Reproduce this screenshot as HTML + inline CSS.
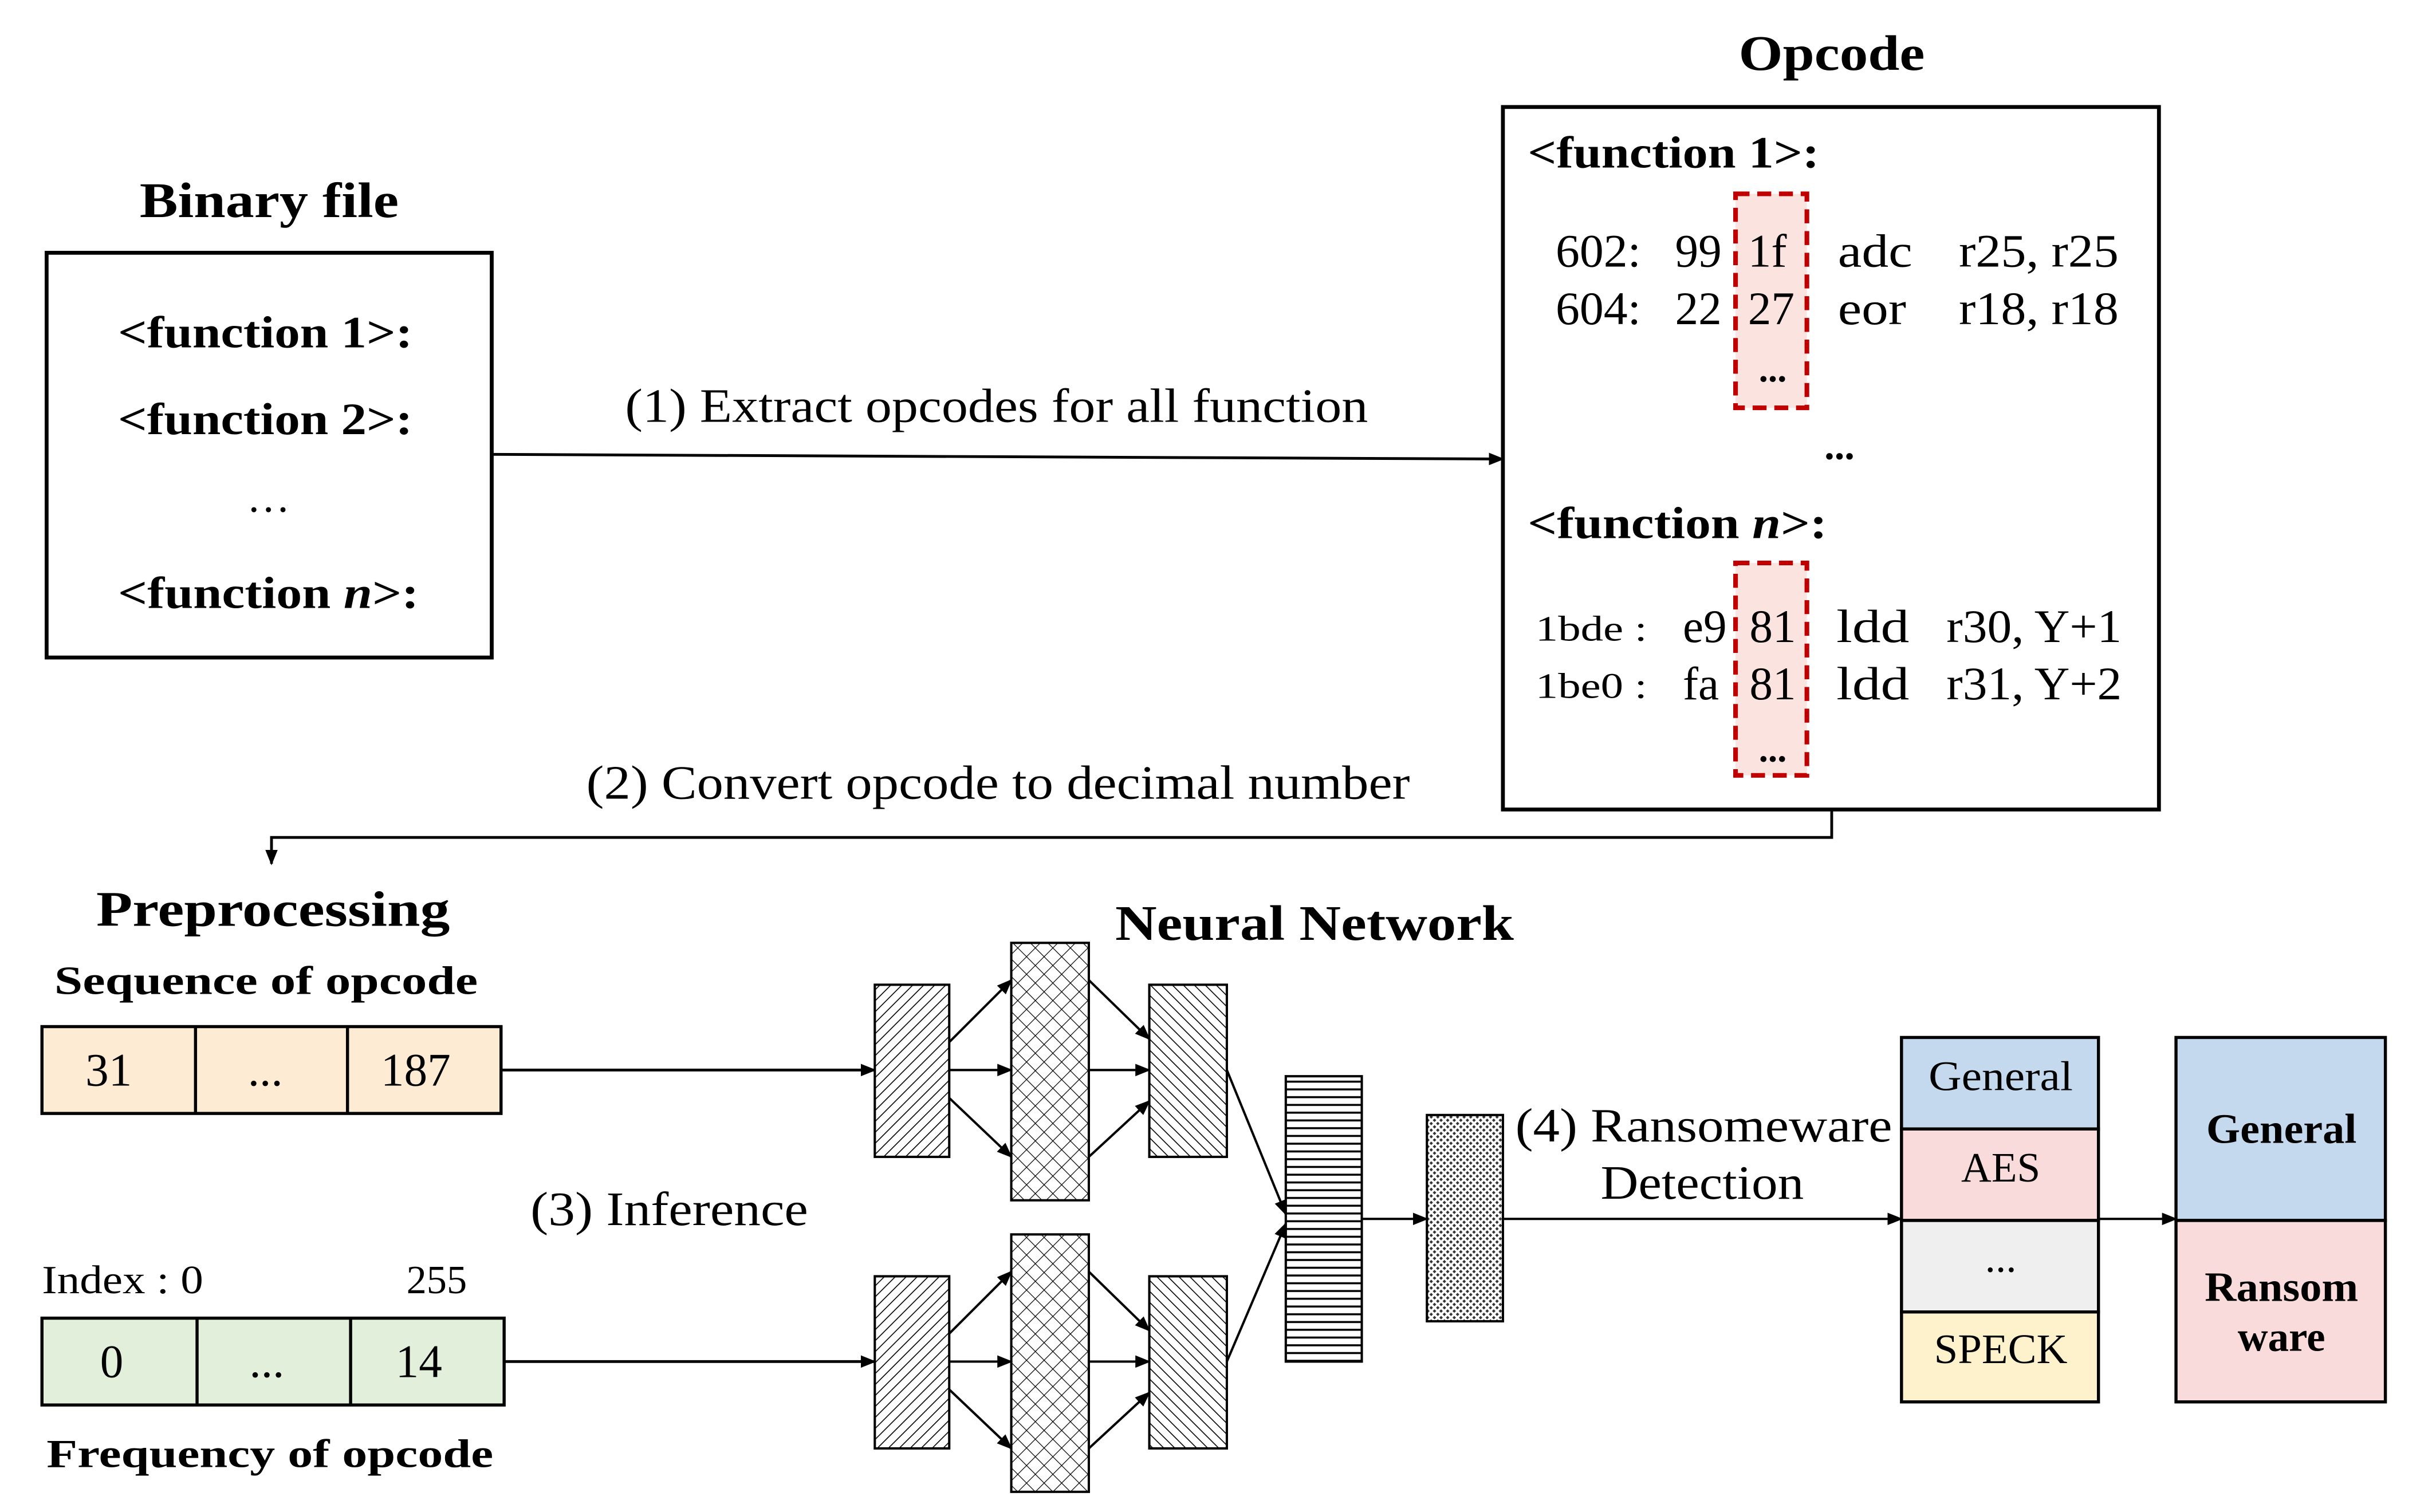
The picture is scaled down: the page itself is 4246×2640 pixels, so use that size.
<!DOCTYPE html>
<html><head><meta charset="utf-8"><style>
html,body{margin:0;padding:0;background:#fff;}
svg{display:block;}
text{font-family:"Liberation Serif",serif;fill:#000;}
.b{font-weight:bold;}
</style></head><body>
<svg width="4246" height="2640" viewBox="0 0 1568 975" xmlns="http://www.w3.org/2000/svg">
<defs>
<marker id="ar" markerWidth="10" markerHeight="8" refX="9" refY="4" orient="auto" markerUnits="userSpaceOnUse">
<path d="M0,0 L10,4 L0,8 z" fill="#000"/></marker>
<pattern id="h1" width="5" height="5" patternUnits="userSpaceOnUse" patternTransform="rotate(45)">
<rect width="5" height="5" fill="#fff"/><line x1="0" y1="0" x2="0" y2="5" stroke="#000" stroke-width="1.2"/></pattern>
<pattern id="h2" width="5" height="5" patternUnits="userSpaceOnUse" patternTransform="rotate(-45)">
<rect width="5" height="5" fill="#fff"/><line x1="0" y1="0" x2="0" y2="5" stroke="#000" stroke-width="1.2"/></pattern>
<pattern id="cx" width="8" height="8" patternUnits="userSpaceOnUse" patternTransform="rotate(45)">
<rect width="8" height="8" fill="#fff"/><line x1="0" y1="0" x2="0" y2="8" stroke="#000" stroke-width="0.9"/><line x1="0" y1="0" x2="8" y2="0" stroke="#000" stroke-width="0.9"/></pattern>
<pattern id="hz" width="5" height="5" patternUnits="userSpaceOnUse">
<rect width="5" height="5" fill="#fff"/><line x1="0" y1="2.5" x2="5" y2="2.5" stroke="#000" stroke-width="1.3"/></pattern>
<pattern id="dt" width="3" height="3" patternUnits="userSpaceOnUse" patternTransform="rotate(45)">
<rect width="3" height="3" fill="#fff"/><rect width="1.6" height="1.6" fill="#333"/></pattern>
</defs>

<!-- Binary file -->
<text x="90" y="140" class="b" font-size="32" textLength="167" lengthAdjust="spacingAndGlyphs">Binary file</text>
<rect x="30" y="163" width="287" height="261" fill="#fff" stroke="#000" stroke-width="2.5"/>
<text x="76" y="224" class="b" font-size="29" textLength="190" lengthAdjust="spacingAndGlyphs">&lt;function 1&gt;:</text>
<text x="76" y="280" class="b" font-size="29" textLength="190" lengthAdjust="spacingAndGlyphs">&lt;function 2&gt;:</text>
<text x="173" y="330" font-size="28" text-anchor="middle">…</text>
<text x="76" y="392" class="b" font-size="29" textLength="194" lengthAdjust="spacingAndGlyphs">&lt;function <tspan font-style="italic">n</tspan>&gt;:</text>

<!-- Arrow 1 -->
<line x1="317" y1="293" x2="969" y2="296" stroke="#000" stroke-width="1.8" marker-end="url(#ar)"/>
<text x="403" y="272" font-size="31" textLength="479" lengthAdjust="spacingAndGlyphs">(1) Extract opcodes for all function</text>

<!-- Opcode -->
<text x="1121" y="45" class="b" font-size="32" textLength="120" lengthAdjust="spacingAndGlyphs">Opcode</text>
<rect x="969" y="69" width="423" height="453" fill="#fff" stroke="#000" stroke-width="2.5"/>
<rect x="1119" y="125" width="46" height="138" fill="#fbe4df" stroke="#c00000" stroke-width="3" stroke-dasharray="9,5"/>
<rect x="1119" y="363" width="46" height="137" fill="#fbe4df" stroke="#c00000" stroke-width="3" stroke-dasharray="9,5"/>
<text x="985" y="108" class="b" font-size="29" textLength="188" lengthAdjust="spacingAndGlyphs">&lt;function 1&gt;:</text>
<g font-size="30">
<text x="1003" y="172" textLength="55" lengthAdjust="spacingAndGlyphs">602:</text><text x="1080" y="172">99</text><text x="1127" y="172">1f</text><text x="1185" y="172" textLength="48" lengthAdjust="spacingAndGlyphs">adc</text><text x="1263" y="172" textLength="103" lengthAdjust="spacingAndGlyphs">r25, r25</text>
<text x="1003" y="209" textLength="55" lengthAdjust="spacingAndGlyphs">604:</text><text x="1080" y="209">22</text><text x="1127" y="209">27</text><text x="1185" y="209" textLength="44" lengthAdjust="spacingAndGlyphs">eor</text><text x="1263" y="209" textLength="103" lengthAdjust="spacingAndGlyphs">r18, r18</text>
</g>
<text x="1143" y="246" class="b" font-size="24" text-anchor="middle">...</text>
<text x="1186" y="296" class="b" font-size="26" text-anchor="middle">...</text>
<text x="985" y="347" class="b" font-size="29" textLength="193" lengthAdjust="spacingAndGlyphs">&lt;function <tspan font-style="italic">n</tspan>&gt;:</text>
<g font-size="30">
<text x="990" y="413" font-size="23" textLength="72" lengthAdjust="spacingAndGlyphs">1bde :</text><text x="1085" y="414">e9</text><text x="1128" y="414">81</text><text x="1184" y="414" textLength="47" lengthAdjust="spacingAndGlyphs">ldd</text><text x="1255" y="414" textLength="113" lengthAdjust="spacingAndGlyphs">r30, Y+1</text>
<text x="990" y="450" font-size="23" textLength="72" lengthAdjust="spacingAndGlyphs">1be0 :</text><text x="1085" y="451">fa</text><text x="1128" y="451">81</text><text x="1184" y="451" textLength="47" lengthAdjust="spacingAndGlyphs">ldd</text><text x="1255" y="451" textLength="113" lengthAdjust="spacingAndGlyphs">r31, Y+2</text>
</g>
<text x="1143" y="491" class="b" font-size="24" text-anchor="middle">...</text>

<!-- Arrow 2 -->
<polyline points="1181,522 1181,540 175,540 175,557" fill="none" stroke="#000" stroke-width="1.8" marker-end="url(#ar)"/>
<text x="378" y="515" font-size="31" textLength="531" lengthAdjust="spacingAndGlyphs">(2) Convert opcode to decimal number</text>

<!-- Preprocessing -->
<text x="62" y="597" class="b" font-size="32" textLength="228" lengthAdjust="spacingAndGlyphs">Preprocessing</text>
<text x="35" y="641" class="b" font-size="26" textLength="273" lengthAdjust="spacingAndGlyphs">Sequence of opcode</text>
<rect x="27" y="662" width="296" height="56" fill="#fdebd3" stroke="#000" stroke-width="2"/>
<line x1="126" y1="662" x2="126" y2="718" stroke="#000" stroke-width="2"/>
<line x1="224" y1="662" x2="224" y2="718" stroke="#000" stroke-width="2"/>
<g font-size="30" text-anchor="middle"><text x="70" y="700">31</text><text x="171" y="700">...</text><text x="268" y="700">187</text></g>

<text x="27" y="834" font-size="26" textLength="104" lengthAdjust="spacingAndGlyphs">Index : 0</text>
<text x="262" y="834" font-size="26">255</text>
<rect x="27" y="850" width="298" height="56" fill="#e2efda" stroke="#000" stroke-width="2"/>
<line x1="127" y1="850" x2="127" y2="906" stroke="#000" stroke-width="2"/>
<line x1="226" y1="850" x2="226" y2="906" stroke="#000" stroke-width="2"/>
<g font-size="30" text-anchor="middle"><text x="72" y="888">0</text><text x="172" y="888">...</text><text x="270" y="888">14</text></g>
<text x="30" y="946" class="b" font-size="26" textLength="288" lengthAdjust="spacingAndGlyphs">Frequency of opcode</text>

<text x="342" y="790" font-size="31" textLength="179" lengthAdjust="spacingAndGlyphs">(3) Inference</text>
<text x="719" y="606" class="b" font-size="32" textLength="257" lengthAdjust="spacingAndGlyphs">Neural Network</text>

<line x1="323" y1="690" x2="564" y2="690" stroke="#000" stroke-width="1.8" marker-end="url(#ar)"/>
<line x1="325" y1="878" x2="564" y2="878" stroke="#000" stroke-width="1.8" marker-end="url(#ar)"/>

<g stroke="#000" stroke-width="1.5">
<rect x="564" y="635" width="48" height="111" fill="url(#h1)"/>
<rect x="652" y="608" width="50" height="166" fill="url(#cx)"/>
<rect x="741" y="635" width="50" height="111" fill="url(#h2)"/>
<rect x="564" y="823" width="48" height="111" fill="url(#h1)"/>
<rect x="652" y="796" width="50" height="166" fill="url(#cx)"/>
<rect x="741" y="823" width="50" height="111" fill="url(#h2)"/>
<rect x="829" y="694" width="49" height="184" fill="url(#hz)"/>
<rect x="920" y="719" width="49" height="133" fill="url(#dt)"/>
</g>
<g stroke="#000" stroke-width="1.5" marker-end="url(#ar)">
<line x1="612" y1="672" x2="652" y2="632"/><line x1="612" y1="690" x2="652" y2="690"/><line x1="612" y1="708" x2="652" y2="746"/>
<line x1="702" y1="632" x2="741" y2="670"/><line x1="702" y1="690" x2="741" y2="690"/><line x1="702" y1="746" x2="741" y2="710"/>
<line x1="612" y1="860" x2="652" y2="820"/><line x1="612" y1="878" x2="652" y2="878"/><line x1="612" y1="896" x2="652" y2="934"/>
<line x1="702" y1="820" x2="741" y2="858"/><line x1="702" y1="878" x2="741" y2="878"/><line x1="702" y1="934" x2="741" y2="898"/>
<line x1="791" y1="690" x2="829" y2="783"/><line x1="791" y1="878" x2="829" y2="789"/>
<line x1="878" y1="786" x2="920" y2="786"/>
<line x1="969" y1="786" x2="1226" y2="786"/>
<line x1="1353" y1="786" x2="1403" y2="786"/>
</g>
<text x="977" y="736" font-size="31" textLength="243" lengthAdjust="spacingAndGlyphs">(4) Ransomeware</text>
<text x="1032" y="773" font-size="31" textLength="131" lengthAdjust="spacingAndGlyphs">Detection</text>

<g stroke="#000" stroke-width="2">
<rect x="1226" y="669" width="127" height="59" fill="#c5d9ee"/>
<rect x="1226" y="728" width="127" height="59" fill="#f9dbdc"/>
<rect x="1226" y="787" width="127" height="59" fill="#efefef"/>
<rect x="1226" y="846" width="127" height="58" fill="#fdf2cc"/>
<rect x="1403" y="669" width="135" height="118" fill="#c5d9ee"/>
<rect x="1403" y="787" width="135" height="117" fill="#f9dbdc"/>
</g>
<g font-size="27" text-anchor="middle">
<text x="1290" y="703" textLength="93" lengthAdjust="spacingAndGlyphs">General</text><text x="1290" y="762">AES</text><text x="1290" y="820">...</text><text x="1290" y="879" textLength="86" lengthAdjust="spacingAndGlyphs">SPECK</text>
</g>
<g font-size="27" text-anchor="middle">
<text x="1471" y="737" class="b" textLength="97" lengthAdjust="spacingAndGlyphs">General</text>
<text x="1471" y="839" class="b" textLength="99" lengthAdjust="spacingAndGlyphs">Ransom</text>
<text x="1471" y="871" class="b">ware</text>
</g>
</svg>
</body></html>
